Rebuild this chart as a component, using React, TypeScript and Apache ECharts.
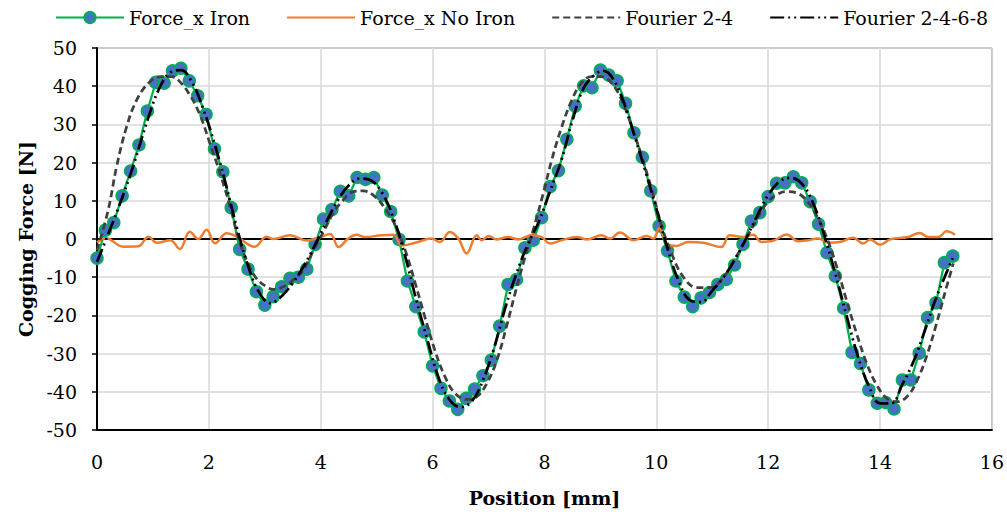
import React, { useEffect, useRef } from "react";
import * as echarts from "echarts";

const positions = [
  0, 0.15, 0.3, 0.45, 0.6, 0.75, 0.9, 1.05, 1.2, 1.35,
  1.5, 1.65, 1.8, 1.95, 2.1, 2.25, 2.4, 2.55, 2.7, 2.85,
  3, 3.15, 3.3, 3.45, 3.6, 3.75, 3.9, 4.05, 4.2, 4.35,
  4.5, 4.65, 4.8, 4.95, 5.1, 5.25, 5.4, 5.55, 5.7, 5.85,
  6, 6.15, 6.3, 6.45, 6.6, 6.75, 6.9, 7.05, 7.2, 7.35,
  7.5, 7.65, 7.8, 7.95, 8.1, 8.25, 8.4, 8.55, 8.7, 8.85,
  9, 9.15, 9.3, 9.45, 9.6, 9.75, 9.9, 10.05, 10.2, 10.35,
  10.5, 10.65, 10.8, 10.95, 11.1, 11.25, 11.4, 11.55, 11.7, 11.85,
  12, 12.15, 12.3, 12.45, 12.6, 12.75, 12.9, 13.05, 13.2, 13.35,
  13.5, 13.65, 13.8, 13.95, 14.1, 14.25, 14.4, 14.55, 14.7, 14.85,
  15, 15.15, 15.3,
];

const forceIron = [
  -5.0, 2.3, 4.3, 11.3, 17.8, 24.6, 33.5, 41.0, 40.8, 44.0,
  44.7, 41.4, 37.5, 32.6, 23.6, 17.6, 8.2, -2.7, -7.9, -13.8,
  -17.3, -15.1, -12.5, -10.3, -10.0, -7.9, -1.4, 5.2, 7.7, 12.5,
  11.3, 16.1, 15.6, 16.1, 11.5, 7.2, -0.1, -11.0, -17.7, -24.3,
  -33.2, -39.1, -42.4, -44.6, -41.7, -39.3, -35.8, -31.7, -22.8, -11.9,
  -10.6, -2.3, -0.3, 5.6, 13.7, 17.9, 26.1, 34.8, 40.1, 39.6,
  44.2, 42.9, 41.4, 35.5, 27.8, 21.4, 12.6, 3.4, -3.1, -11.0,
  -15.2, -17.7, -15.4, -14.0, -11.9, -10.6, -6.8, -1.4, 4.7, 6.9,
  11.1, 14.6, 14.7, 16.3, 14.7, 9.8, 3.9, -3.6, -9.7, -18.1,
  -29.7, -32.6, -39.5, -43.0, -42.8, -44.5, -36.9, -36.9, -29.9, -20.6,
  -16.7, -6.2, -4.5,
];

const forceNoIron: [number, number][] = [
  [0, -0.9], [0.16, 0.2], [0.47, -2.0], [0.74, -1.9], [0.92, 0.6], [1.07, -1.0],
  [1.31, -0.3], [1.48, -2.6], [1.66, 1.9], [1.81, 0], [1.96, 2.4], [2.11, -1.1],
  [2.32, 1.5], [2.5, 0.6], [2.82, -2.0], [3.03, 0.6], [3.15, 0], [3.45, 1.0],
  [3.75, -0.4], [3.99, 0.5], [4.17, 1.3], [4.32, -2.1], [4.49, 0.1], [4.64, 1.1],
  [4.79, 0.5], [5.09, 1.0], [5.3, 1.1], [5.45, -1.7], [5.69, -1.0], [5.98, 0.1],
  [6.13, -0.8], [6.31, 1.8], [6.46, 0.1], [6.61, -3.8], [6.79, 1.0], [6.88, -0.3],
  [7.0, 0.8], [7.14, -0.1], [7.35, 0.5], [7.53, -0.1], [7.77, 1.0], [7.95, 0.5],
  [8.1, -1.2], [8.31, -0.3], [8.58, 0.5], [8.76, -0.1], [9.02, 1.0], [9.17, 0.1],
  [9.35, 1.7], [9.59, -0.3], [9.83, 0.8], [9.95, 0.1], [10.05, 2.9], [10.19, -1.2],
  [10.36, -1.8], [10.57, -0.8], [10.84, -1.0], [11.16, -2.1], [11.31, 1.0], [11.55, 0.5],
  [11.73, 1.1], [11.88, -0.8], [12.03, -0.6], [12.12, -0.3], [12.33, 1.2], [12.54, -0.6],
  [12.72, -0.3], [12.89, 0.1], [13.1, -1.0], [13.28, -0.8], [13.52, 0.3], [13.7, -1.2],
  [13.82, -0.1], [14.0, -1.5], [14.18, -0.1], [14.5, 0.5], [14.71, 1.6], [14.86, 0.5],
  [15.04, 0.5], [15.19, 2.0], [15.34, 1.1],
];

const fourier24: [number, number][] = [
  [0, -3], [0.2, 7.6], [0.35, 18.9], [0.53, 29.4], [0.71, 36.4], [0.92, 40.8],
  [1.13, 42.5], [1.33, 42.5], [1.48, 41.2], [1.66, 37.7], [1.84, 32.5], [2.02, 25.0],
  [2.2, 17.2], [2.38, 8.5], [2.53, 0.2], [2.7, -6.4], [2.85, -10.3], [3.03, -12.5],
  [3.15, -13.2], [3.33, -12.5], [3.51, -10.7], [3.69, -8.1], [3.87, -2.9], [4.05, 1.9],
  [4.22, 6.7], [4.38, 9.8], [4.58, 12.4], [4.76, 12.6], [4.97, 11.1], [5.15, 8.0],
  [5.33, 3.7], [5.51, -2.9], [5.69, -11.6], [5.86, -20.3], [6.04, -29.1], [6.22, -36.0],
  [6.4, -40.4], [6.61, -42.0], [6.79, -41.3], [6.97, -37.8], [7.15, -31.7], [7.32, -23.0],
  [7.47, -14.5], [7.62, -6.4], [7.8, 2.4], [7.98, 12.0], [8.13, 20.7], [8.31, 29.4],
  [8.49, 36.4], [8.66, 40.8], [8.84, 42.5], [9.02, 42.5], [9.2, 40.8], [9.38, 36.4],
  [9.56, 29.4], [9.74, 21.5], [9.92, 12.8], [10.1, 3.2], [10.27, -3.7], [10.48, -9.9],
  [10.72, -12.7], [10.96, -12.7], [11.2, -10.0], [11.43, -4.6], [11.61, 0.2], [11.79, 5.0],
  [11.97, 9.3], [12.14, 11.5], [12.33, 12.4], [12.5, 12.1], [12.68, 10.2], [12.86, 6.3],
  [13.04, 0.6], [13.22, -7.0], [13.4, -16.0], [13.58, -24.7], [13.76, -32.5], [13.94, -38.2],
  [14.12, -41.7], [14.3, -42.6], [14.48, -41.3], [14.65, -37.4], [14.83, -30.8], [15.01, -22.1],
  [15.19, -12.5], [15.31, -6.4],
];

const fourier2468: [number, number][] = [
  [0, -6], [0.3, 5], [0.6, 17], [0.9, 31], [1.1, 39], [1.3, 43.5], [1.5, 44.2],
  [1.7, 41], [1.9, 34], [2.1, 25], [2.3, 14.5], [2.5, 3], [2.7, -7], [2.9, -14],
  [3.1, -16.8], [3.3, -15], [3.5, -11.5], [3.7, -7], [3.9, -1.5], [4.1, 4.5],
  [4.3, 10], [4.5, 14], [4.7, 15.8], [4.9, 15.3], [5.1, 12], [5.3, 5.5], [5.5, -4],
  [5.7, -15.5], [5.9, -26], [6.1, -36], [6.3, -42], [6.5, -44], [6.7, -42.5],
  [6.9, -37], [7.1, -28.5], [7.3, -18], [7.5, -9], [7.7, -1.5], [7.9, 4.5], [8.1, 12.5],
  [8.3, 20.5], [8.5, 31], [8.7, 39.5], [8.9, 43], [9.05, 44], [9.2, 42.5], [9.4, 36.5],
  [9.6, 27.5], [9.8, 18], [10.0, 8], [10.2, -2.5], [10.4, -11], [10.6, -16],
  [10.8, -16.5], [11.0, -13.5], [11.2, -10], [11.4, -5.5], [11.6, 0], [11.8, 6],
  [12.0, 11.5], [12.2, 15], [12.4, 16], [12.6, 14.5], [12.8, 9.5], [13.0, 1],
  [13.2, -9], [13.4, -20], [13.6, -30.5], [13.8, -38.5], [14.0, -43], [14.2, -43],
  [14.4, -38], [14.6, -32], [14.8, -24], [15.0, -15.5], [15.3, -5],
];

const seriesNames = ["Force_x Iron", "Force_x No Iron", "Fourier 2-4", "Fourier 2-4-6-8"];
const xAxisTitle = "Position [mm]";
const yAxisTitle = "Cogging Force [N]";

const FONT = "DejaVu Serif";

export default function App() {
  const ref = useRef<HTMLDivElement>(null);
  useEffect(() => {
    if (!ref.current) return;
    const chart = echarts.init(ref.current, null, { renderer: "svg" });
    const ironData = positions.map((p, i) => [p, forceIron[i]]);
    chart.setOption({
      animation: false,
      backgroundColor: "#ffffff",
      textStyle: { fontFamily: FONT },
      legend: {
        left: 50,
        top: 3,
        itemWidth: 68,
        itemHeight: 14,
        itemGap: 36,
        textStyle: { fontFamily: FONT, fontSize: 19, color: "#000" },
        data: [
          { name: seriesNames[0] },
          { name: seriesNames[1], itemStyle: { opacity: 0 } },
          { name: seriesNames[2], itemStyle: { opacity: 0 } },
          { name: seriesNames[3], itemStyle: { opacity: 0 } },
        ],
      },
      grid: {
        left: 97,
        right: 15,
        top: 48,
        bottom: 85,
        show: true,
        borderColor: "#404040",
        borderWidth: 1,
      },
      xAxis: [
        {
          type: "value",
          min: 0,
          max: 16,
          interval: 2,
          position: "bottom",
          axisLine: { onZero: false, lineStyle: { color: "#000", width: 2 } },
          axisTick: { show: false },
          axisLabel: { fontFamily: FONT, fontSize: 19, color: "#000", margin: 22 },
          splitLine: { show: true, lineStyle: { color: "#d9d9d9", width: 1.5 } },
          name: xAxisTitle,
          nameLocation: "middle",
          nameGap: 58,
          nameTextStyle: { fontFamily: FONT, fontSize: 19, fontWeight: "bold", color: "#000" },
        },
        {
          type: "value",
          min: 0,
          max: 16,
          interval: 2,
          position: "bottom",
          axisLine: { onZero: true, lineStyle: { color: "#000", width: 2 } },
          axisTick: { show: false },
          axisLabel: { show: false },
          splitLine: { show: false },
        },
      ],
      yAxis: {
        type: "value",
        min: -50,
        max: 50,
        interval: 10,
        axisLine: { show: true, lineStyle: { color: "#000", width: 2 } },
        axisTick: { show: true, inside: false, length: 5, lineStyle: { color: "#000", width: 1.5 } },
        axisLabel: { fontFamily: FONT, fontSize: 19, color: "#000", margin: 20 },
        splitLine: { show: true, lineStyle: { color: "#d9d9d9", width: 1.5 } },
        name: yAxisTitle,
        nameLocation: "middle",
        nameGap: 62,
        nameTextStyle: { fontFamily: FONT, fontSize: 19, fontWeight: "bold", color: "#000" },
      },
      series: [
        {
          name: seriesNames[0],
          type: "line",
          data: ironData,
          symbol: "circle",
          symbolSize: 12,
          lineStyle: { color: "#00b050", width: 2.25 },
          itemStyle: { color: "#4472c4", borderColor: "#00b050", borderWidth: 1.5 },
          z: 2,
        },
        {
          name: seriesNames[1],
          type: "line",
          data: forceNoIron,
          smooth: 0.4,
          symbol: "none",
          lineStyle: { color: "#ed7d31", width: 2.5 },
          itemStyle: { color: "#ed7d31" },
          z: 3,
        },
        {
          name: seriesNames[2],
          type: "line",
          data: fourier24,
          smooth: 0.4,
          symbol: "none",
          lineStyle: { color: "#404040", width: 2.75, type: [7, 4] },
          itemStyle: { color: "#404040" },
          z: 4,
        },
        {
          name: seriesNames[3],
          type: "line",
          data: fourier2468,
          smooth: 0.4,
          symbol: "none",
          lineStyle: { color: "#000", width: 2.75, type: [14, 4, 2, 4, 2, 4] },
          itemStyle: { color: "#000" },
          z: 5,
        },
      ],
    });
    return () => chart.dispose();
  }, []);
  return (
    <div
      ref={ref}
      style={{ position: "absolute", left: 0, top: 0, width: 1007, height: 515 }}
    />
  );
}
